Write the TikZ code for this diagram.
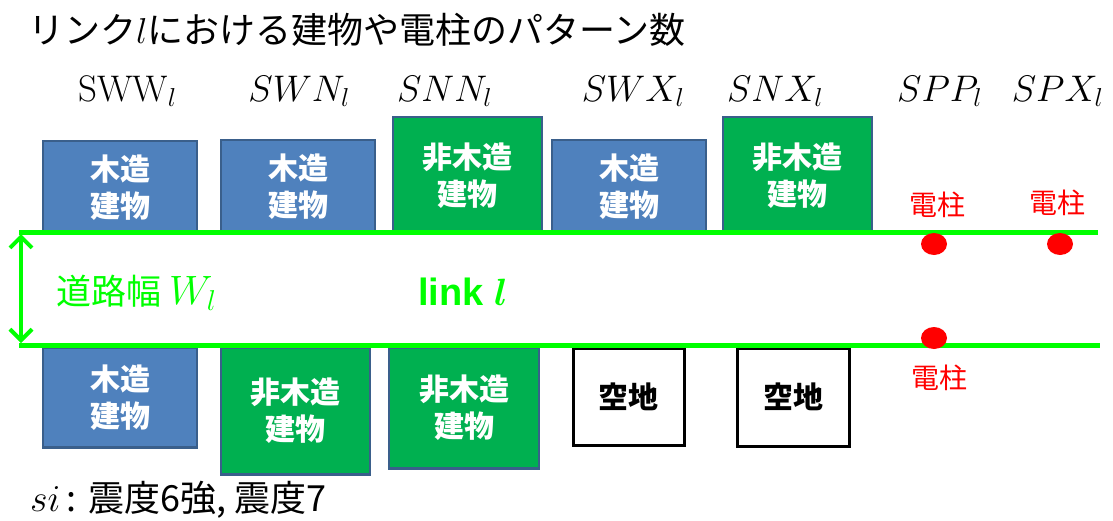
\RequirePackage{fix-cm}
\documentclass[tikz,border=0pt]{standalone}
\usepackage{fontspec}
\newfontfamily\jp{Noto Sans CJK JP}
\newfontfamily\lsans{Liberation Sans}
\usetikzlibrary{arrows.meta,shapes.geometric}
\definecolor{woodblue}{HTML}{4F81BD}
\definecolor{bordblue}{HTML}{3A5F8B}
\definecolor{nwgreen}{HTML}{00B050}
\definecolor{roadgreen}{HTML}{00FF00}
\definecolor{polered}{HTML}{FF0000}
\newcommand{\boldl}{{\mathversion{bold}$l$}}
\tikzset{
  bldg/.style={draw=bordblue, line width=2.5pt, inner sep=0pt, text=white, align=center,
    font=\jp\bfseries\fontsize{30}{37}\selectfont},
  wood/.style={bldg, fill=woodblue},
  nonwood/.style={bldg, fill=nwgreen},
  vacant/.style={draw=black, fill=white, line width=3pt, inner sep=0pt, align=center,
    font=\jp\bfseries\fontsize{30}{37}\selectfont},
  road/.style={draw=roadgreen, line width=5pt},
  pole/.style={ellipse, fill=polered, inner sep=0pt, minimum width=26pt, minimum height=22pt},
  polelabel/.style={text=polered, font=\jp\fontsize{28}{32}\selectfont, inner sep=0pt},
  patlabel/.style={anchor=base, inner sep=0pt, font=\fontsize{37}{40}\selectfont},
}
\begin{document}
\begin{tikzpicture}[x=1pt,y=-1pt]
\path[use as bounding box] (0,0) rectangle (1113,520);
% title
\node[anchor=west, inner sep=0pt, font=\jp\fontsize{36}{40}\selectfont] (title) at (28,30) {リンク$l$における建物や電柱のパターン数};
% pattern labels
\node[patlabel] (lSWW) at (127.5,101) {$\mathrm{SWW}_l$};
\node[patlabel] (lSWN) at (299,101) {$SWN_l$};
\node[patlabel] (lSNN) at (444.5,101) {$SNN_l$};
\node[patlabel] (lSWX) at (633,101) {$SWX_l$};
\node[patlabel] (lSNX) at (775,101) {$SNX_l$};
\node[patlabel] (lSPP) at (939.5,101) {$SPP_l$};
\node[patlabel] (lSPX) at (1057.5,101) {$SPX_l$};
% upper buildings
\node[wood, minimum width=154pt, minimum height=93pt] (u1) at (120,187.5) {木造\\建物};
\node[wood, minimum width=154pt, minimum height=94pt] (u2) at (298,187) {木造\\建物};
\node[nonwood, minimum width=149pt, minimum height=117pt] (u3) at (467.5,175.5) {非木造\\建物};
\node[wood, minimum width=154pt, minimum height=94pt] (u4) at (629,187) {木造\\建物};
\node[nonwood, minimum width=149pt, minimum height=117pt] (u5) at (797.5,175.5) {非木造\\建物};
% lower buildings
\node[wood, minimum width=154pt, minimum height=100pt] (d1) at (120,397.5) {木造\\建物};
\node[nonwood, minimum width=149pt, minimum height=127pt] (d2) at (295.5,411) {非木造\\建物};
\node[nonwood, minimum width=150pt, minimum height=121pt] (d3) at (464,408) {非木造\\建物};
\node[vacant, minimum width=111pt, minimum height=97pt] (d4) at (628.5,396.5) {空地};
\node[vacant, minimum width=112pt, minimum height=98pt] (d5) at (793,397) {空地};
% road edges
\coordinate (ul) at (19,232);
\coordinate (ur) at (1098,232);
\coordinate (ll) at (19,345);
\coordinate (lr) at (1100,345);
\draw[road] (ul) -- (ur);
\draw[road] (ll) -- (lr);
\coordinate (at) at (21,234);
\coordinate (ab) at (21,343);
\draw[draw=roadgreen, line width=4pt, {Straight Barb[length=11pt,width=22pt]}-{Straight Barb[length=11pt,width=22pt]}] (at) -- (ab);
% road labels
\node[anchor=west, inner sep=0pt, text=roadgreen, font=\jp\fontsize{35}{40}\selectfont] (wlabel) at (56,293) {道路幅 {\fontsize{41}{44}\selectfont$W_l$}};
\node[anchor=west, inner sep=0pt, text=roadgreen, font=\lsans\bfseries\fontsize{38}{42}\selectfont] (linklabel) at (418,292) {link \boldl};
% poles
\node[pole] (p1) at (934,244) {};
\node[pole] (p2) at (1060,244) {};
\node[pole] (p3) at (934,338) {};
\node[polelabel] (t1) at (937,205) {電柱};
\node[polelabel] (t2) at (1057,203) {電柱};
\node[polelabel] (t3) at (939,378) {電柱};
% seismic intensity
\node[anchor=west, inner sep=0pt, font=\jp\fontsize{36}{40}\selectfont] (si) at (30,500) {{\fontsize{38}{40}\selectfont$si$}\,:\hspace{12pt}震度6強, 震度7};
\end{tikzpicture}
\end{document}
